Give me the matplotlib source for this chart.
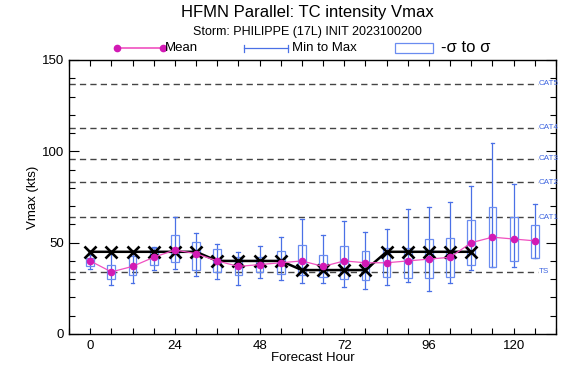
import matplotlib
matplotlib.use("Agg")
import matplotlib.pyplot as plt
from matplotlib.lines import Line2D
from matplotlib.patches import Rectangle
from matplotlib.ticker import MultipleLocator

plt.rcParams['font.family'] = ['Liberation Sans', 'DejaVu Sans']

# ---- data ----
hours = [0, 6, 12, 18, 24, 30, 36, 42, 48, 54, 60, 66, 72, 78, 84, 90, 96, 102, 108, 114, 120, 126]
mean_vmax = [40, 34, 37, 42, 46, 44, 40, 37, 38, 39, 40, 37, 40, 39, 39, 40, 41, 42, 50, 53, 52, 51]
sig_low = [37.5, 30, 32.3, 37.8, 39.5, 35.3, 33.7, 32.3, 33.7, 32.7, 32.3, 31.1, 30.3, 29.6, 31.4, 30.8, 30.5, 31.4, 38.0, 36.8, 40.0, 41.6]
sig_high = [41.8, 37.8, 42.8, 46.9, 54.1, 50.5, 46.3, 42.0, 42.3, 45.3, 48.7, 43.4, 48.4, 45.6, 46.9, 47.3, 51.8, 52.4, 62.4, 69.7, 64.2, 59.6]
vmin = [35.6, 26.7, 27.7, 35.0, 35.8, 31.6, 29.9, 26.6, 30.8, 29.7, 27.7, 27.7, 25.5, 24.6, 26.6, 28.6, 23.5, 27.7, 34.9, 36.8, 36.8, 41.6]
vmax = [43.5, 44.0, 45.0, 47.8, 64.2, 55.1, 49.1, 44.9, 48.0, 52.9, 63.2, 54.0, 62.0, 56.0, 57.3, 68.2, 69.3, 72.3, 81.2, 104.4, 82.3, 71.2]

best_hours = [0, 6, 12, 18, 24, 30, 36, 42, 48, 54, 60, 66, 72, 78, 84, 90, 96, 102, 108]
best_vmax = [45, 45, 45, 45, 45, 45, 40, 40, 40, 40, 35, 35, 35, 35, 45, 45, 45, 45, 45]

cat_names = ['TS', 'CAT1', 'CAT2', 'CAT3', 'CAT4', 'CAT5']
cat_values = [34, 64, 83, 96, 113, 137]

x_ticks = [0, 24, 48, 72, 96, 120]

# ---- figure ----
W, H = 562, 369
fig = plt.figure(figsize=(W / 100, H / 100), dpi=100)
ax = fig.add_axes([69 / W, 1 - 334 / H, (556 - 69) / W, (334 - 60) / H])

whisk_col = '#4a70e6'
box_col = '#6a8cf0'
mean_line_col = '#f050c0'
mean_dot_col = '#d21ab4'
dash_col = '#444444'

# category lines
for name, v in zip(cat_names, cat_values):
    ax.plot([-6, 127], [v, v], ls=(0, (4.5, 3)), color=dash_col, lw=1.0, zorder=1)
    ax.text(127.2, v, name, color='#3f66e0', fontsize=5.8, va='center', ha='left',
            clip_on=False, zorder=5)

# whiskers (min to max)
box_w = 2.2
cap_w = 1.1
for h, lo, hi in zip(hours, vmin, vmax):
    ax.plot([h, h], [lo, hi], color=whisk_col, lw=0.9, zorder=2)
    ax.plot([h - cap_w / 2, h + cap_w / 2], [lo, lo], color=whisk_col, lw=0.9, zorder=2)
    ax.plot([h - cap_w / 2, h + cap_w / 2], [hi, hi], color=whisk_col, lw=0.9, zorder=2)

# sigma boxes
for h, lo, hi in zip(hours, sig_low, sig_high):
    ax.add_patch(Rectangle((h - box_w / 2, lo), box_w, hi - lo, fill=False,
                           edgecolor=box_col, lw=0.9, zorder=3))

# best track
ax.plot(best_hours, best_vmax, color='black', lw=1.8, marker='x', ms=9, mew=1.9,
        zorder=4)

# mean
ax.plot(hours, mean_vmax, color=mean_line_col, lw=0.9, zorder=5)
ax.plot(hours, mean_vmax, ls='none', marker='o', ms=4.5, color=mean_dot_col,
        mec=mean_dot_col, zorder=6)

ax.set_xlim(-6, 132)
ax.set_ylim(0, 150)
ax.set_xticks(x_ticks)
ax.xaxis.set_minor_locator(MultipleLocator(6))
ax.yaxis.set_major_locator(MultipleLocator(50))
ax.yaxis.set_minor_locator(MultipleLocator(10))
ax.tick_params(which='both', direction='in', top=True, right=True, labelsize=9.5,
               width=0.8)
ax.tick_params(axis='y', which='major', length=7)
ax.tick_params(axis='y', which='minor', length=4)
ax.tick_params(axis='x', which='both', length=4)
ax.tick_params(axis='x', pad=4)
for s in ax.spines.values():
    s.set_linewidth(1.0)
ax.set_xlabel('Forecast Hour', fontsize=9.5, labelpad=0)
ax.set_ylabel('Vmax (kts)', fontsize=9.5, labelpad=2)

# titles
fig.text(307 / W, 1 - 13 / H, 'HFMN Parallel: TC intensity Vmax', ha='center',
         va='center', fontsize=12)
fig.text(307 / W, 1 - 31.5 / H, 'Storm: PHILIPPE (17L) INIT 2023100200',
         ha='center', va='center', fontsize=9)

# legend (manual)
ly = 1 - 48 / H
fig.add_artist(Line2D([117 / W, 163 / W], [ly, ly], color=mean_line_col, lw=1.2))
fig.add_artist(Line2D([117 / W, 163 / W], [ly, ly], ls='none', marker='o', ms=4.5,
                      color=mean_dot_col))
fig.text(165 / W, ly, 'Mean', ha='left', va='center', fontsize=9.5)

fig.add_artist(Line2D([244 / W, 288 / W], [ly, ly], color=whisk_col, lw=0.9))
for xx in (244, 288):
    fig.add_artist(Line2D([xx / W, xx / W], [ly - 3.5 / H, ly + 3.5 / H],
                          color=whisk_col, lw=0.9))
fig.text(292 / W, ly, 'Min to Max', ha='left', va='center', fontsize=9.5)

fig.add_artist(Rectangle((395 / W, ly - 5 / H), 38 / W, 10 / H, fill=False,
                         edgecolor=box_col, lw=0.9, transform=fig.transFigure))
fig.text(441 / W, ly + 1 / H, '-σ to σ', ha='left', va='center', fontsize=12)

fig.savefig('out.png', dpi=100)
